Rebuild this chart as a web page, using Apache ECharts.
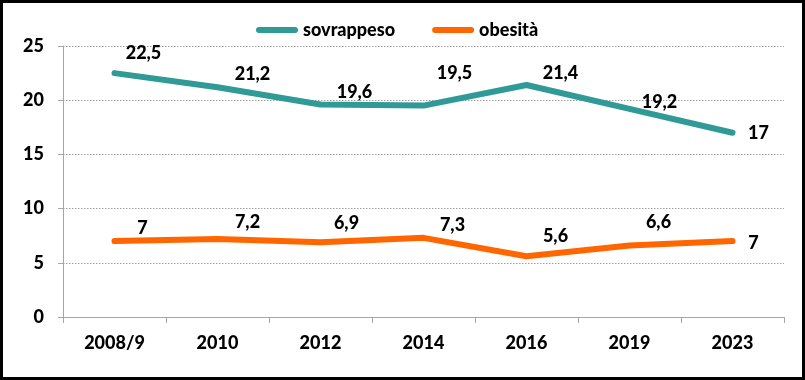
<!DOCTYPE html>
<html>
<head>
<meta charset="utf-8">
<script src="https://cdn.jsdelivr.net/npm/echarts@6/dist/echarts.min.js"></script>
<style>
html,body{margin:0;padding:0;background:#fff;}
#wrap{position:relative;width:805px;height:380px;}
#c{position:absolute;left:0;top:0;width:805px;height:380px;}
#frame{position:absolute;left:0;top:0;width:805px;height:380px;box-sizing:border-box;border:3px solid #000;pointer-events:none;}
</style>
</head>
<body>
<div id="wrap"><div id="c"></div><div id="frame"></div></div>
<script>
var categories = ['2008/9', '2010', '2012', '2014', '2016', '2019', '2023'];
var sovrappeso = [22.5, 21.2, 19.6, 19.5, 21.4, 19.2, 17];
var obesita = [7, 7.2, 6.9, 7.3, 5.6, 6.6, 7];
var yTicks = [0, 5, 10, 15, 20, 25];

// label placement (offsets from each point, in px)
var sovLabelOffsets = [[29,-20],[35,-13],[34,-12],[31,-32],[34,-12],[30,-7],[26,0]];
var obLabelOffsets = [[28,-13],[30,-17],[26,-19],[29,-13],[29,-20],[29,-23],[21,2]];

var FONT = 'Lato, "Open Sans", sans-serif';
var WEIGHT = 900;
var TEAL = '#2F9A96';
var ORANGE = '#FF6600';

function fmt(v){ return String(v).replace('.', ','); }

function buildData(values, offsets){
  return values.map(function(v, i){
    return {
      value: v,
      label: { offset: offsets[i] }
    };
  });
}

var chart = echarts.init(document.getElementById('c'), null, {renderer:'canvas'});
var capsule = 'path://M3,0 L39,0 A3,3 0 0 1 39,6 L3,6 A3,3 0 0 1 3,0 Z';

chart.setOption({
  animation: false,
  backgroundColor: '#fff',
  legend: {
    left: 251,
    top: 16,
    itemWidth: 42,
    itemHeight: 6,
    itemGap: 37,
    textStyle: { fontFamily: FONT, fontWeight: WEIGHT, fontSize: 18, color: '#000' },
    data: [
      { name: 'sovrappeso', icon: capsule, itemStyle: { color: TEAL } },
      { name: 'obesità', icon: capsule, itemStyle: { color: ORANGE } }
    ]
  },
  grid: { left: 63, right: 21, top: 46, bottom: 63, containLabel: false },
  xAxis: {
    type: 'category',
    data: categories,
    boundaryGap: true,
    axisLine: { show: true, lineStyle: { color: '#a6a6a6', width: 1 } },
    axisTick: { show: true, alignWithLabel: false, length: 6, lineStyle: { color: '#a6a6a6' } },
    axisLabel: { margin: 17, fontFamily: FONT, fontWeight: WEIGHT, fontSize: 18, color: '#000' },
    splitLine: { show: false }
  },
  yAxis: {
    type: 'value',
    min: yTicks[0],
    max: yTicks[yTicks.length - 1],
    interval: 5,
    axisLine: { show: true, lineStyle: { color: '#a6a6a6', width: 1 } },
    axisTick: { show: true, length: 5, lineStyle: { color: '#a6a6a6' } },
    axisLabel: { margin: 19, fontFamily: FONT, fontWeight: WEIGHT, fontSize: 18, color: '#000' },
    splitLine: { show: true, lineStyle: { color: '#a0a0a0', type: [1.5, 1.5], width: 1 } }
  },
  series: [
    {
      name: 'sovrappeso',
      type: 'line',
      data: buildData(sovrappeso, sovLabelOffsets),
      symbol: 'circle',
      symbolSize: 1,
      showSymbol: true,
      itemStyle: { color: TEAL },
      lineStyle: { color: TEAL, width: 6, cap: 'round', join: 'round' },
      label: {
        show: true, position: 'inside', align: 'center', verticalAlign: 'middle',
        fontFamily: FONT, fontWeight: WEIGHT, fontSize: 18, color: '#000',
        formatter: function(p){ return fmt(p.value); }
      },
      emphasis: { disabled: true }
    },
    {
      name: 'obesità',
      type: 'line',
      data: buildData(obesita, obLabelOffsets),
      symbol: 'circle',
      symbolSize: 1,
      showSymbol: true,
      itemStyle: { color: ORANGE },
      lineStyle: { color: ORANGE, width: 6, cap: 'round', join: 'round' },
      label: {
        show: true, position: 'inside', align: 'center', verticalAlign: 'middle',
        fontFamily: FONT, fontWeight: WEIGHT, fontSize: 18, color: '#000',
        formatter: function(p){ return fmt(p.value); }
      },
      emphasis: { disabled: true }
    }
  ]
});
</script>
</body>
</html>
